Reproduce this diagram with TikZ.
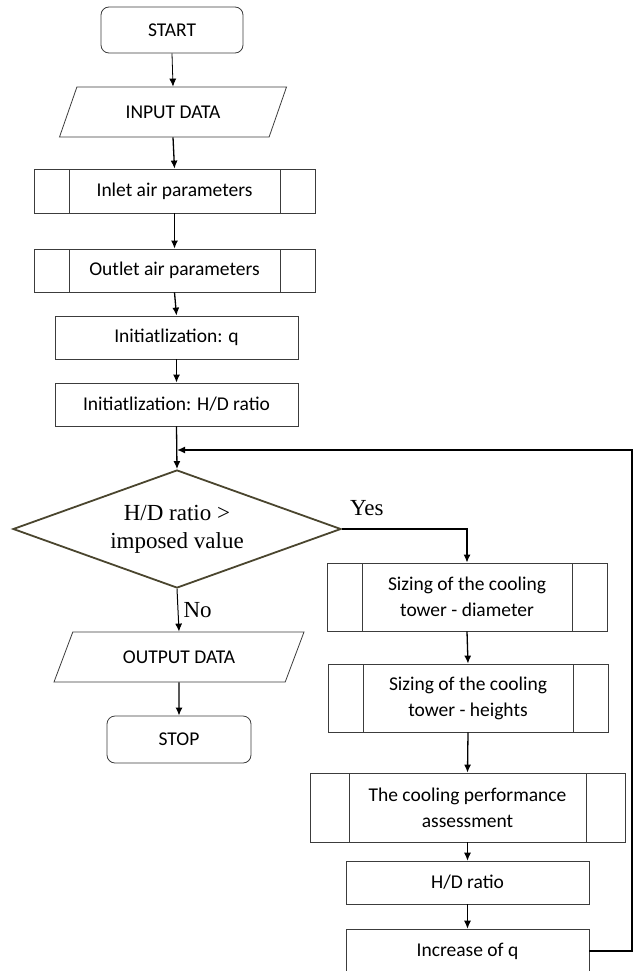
\documentclass[tikz,border=0pt]{standalone}
\usepackage{fontspec}
\setmainfont{Carlito}
\newfontfamily\serifbig{Liberation Serif}
\usetikzlibrary{shapes.geometric,arrows.meta}
\definecolor{olivedark}{RGB}{74,69,46}
\definecolor{boxline}{RGB}{60,60,60}
\tikzset{
  every node/.style={font=\fontsize{19.5}{26}\selectfont, align=center},
  terminal/.style={draw=boxline, line width=0.8pt, rounded corners=8pt, minimum height=46pt},
  iobox/.style={draw=boxline, line width=0.8pt, trapezium, trapezium left angle=#1, trapezium right angle=180-#1, trapezium stretches body, minimum height=50pt, inner xsep=2pt},
  procbox/.style={draw=boxline, line width=0.8pt, minimum height=43pt},
  subproc/.style={procbox, path picture={
    \draw[boxline, line width=0.8pt] ([xshift=#1]path picture bounding box.north west) -- ([xshift=#1]path picture bounding box.south west)
      ([xshift=-#1]path picture bounding box.north east) -- ([xshift=-#1]path picture bounding box.south east);}},
  decision/.style={diamond, draw=olivedark, line width=1.8pt, aspect=2.78, inner sep=0pt, font=\serifbig\fontsize{23}{30}\selectfont},
  arr/.style={-{Latex[length=8pt,width=7pt]}, line width=1.3pt},
  yesno/.style={font=\serifbig\fontsize{23}{27}\selectfont}
}
\begin{document}
\begin{tikzpicture}[x=1pt,y=1pt]
\useasboundingbox (0,0) rectangle (634,-971);
% left column
\node[terminal, minimum width=142pt] (start) at (172,-30) {START};
\node[iobox=48, minimum width=227pt] (input) at (173,-112) {INPUT DATA};
\node[subproc=35pt, minimum width=281pt, minimum height=44pt] (inlet) at (174.5,-191) {Inlet air parameters};
\node[subproc=35pt, minimum width=281pt] (outlet) at (174.5,-270.5) {Outlet air parameters};
\node[procbox, minimum width=243pt] (initq) at (176.5,-337.5) {Initiatlization: q};
\node[procbox, minimum width=243pt] (inithd) at (176.5,-404.5) {Initiatlization: H/D ratio};
\node[decision, minimum width=328pt, minimum height=118pt] (check) at (177,-529) {\raisebox{-4pt}{\shortstack{H/D ratio >\\[9pt]imposed value}}};
\node[iobox=46, minimum width=250pt] (output) at (179,-657) {OUTPUT DATA};
\node[terminal, minimum width=144pt, minimum height=47pt] (stop) at (179,-739.5) {STOP};
% right column
\node[subproc=35pt, minimum width=280pt, minimum height=68pt] (diam) at (467,-597) {Sizing of the cooling\\tower - diameter};
\node[subproc=35pt, minimum width=280pt, minimum height=68pt] (heights) at (468,-698) {Sizing of the cooling\\tower - heights};
\node[subproc=39pt, minimum width=315pt, minimum height=69pt] (perf) at (467.5,-807.5) {The cooling performance\\assessment};
\node[procbox, minimum width=243pt] (ratio) at (467.5,-882.5) {H/D ratio};
\node[procbox, minimum width=243pt, minimum height=44pt] (incq) at (467.5,-951) {Increase of q};
\coordinate (loop) at (632,-450);
\coordinate (merge) at (177,-450);

\draw[arr, line width=0.8pt] (start.south) -- (input.north);
\draw[arr] (input.south) -- (inlet.north);
\draw[arr] (inlet.south) -- (outlet.north);
\draw[arr] (outlet.south) -- (initq.north);
\draw[arr] (initq.south) -- (inithd.north);
\draw[arr] (inithd.south) -- (check.north);
\draw[arr, line width=1pt] (check.south) -- node[yesno, right, inner sep=5pt] {No} (output.north);
\draw[arr] (output.south) -- (stop.north);
\draw[arr] (check.east) -| node[yesno, pos=0.1, above=9pt] {Yes} (diam.north);
\draw[arr] (diam.south) -- (heights.north);
\draw[arr] (heights.south) -- (perf.north);
\draw[arr, line width=0.8pt] (perf.south) -- (ratio.north);
\draw[arr, line width=0.8pt] (ratio.south) -- (incq.north);
\draw[arr, line width=1.5pt] (incq.east) -| (loop) -- (merge);
\end{tikzpicture}
\end{document}
